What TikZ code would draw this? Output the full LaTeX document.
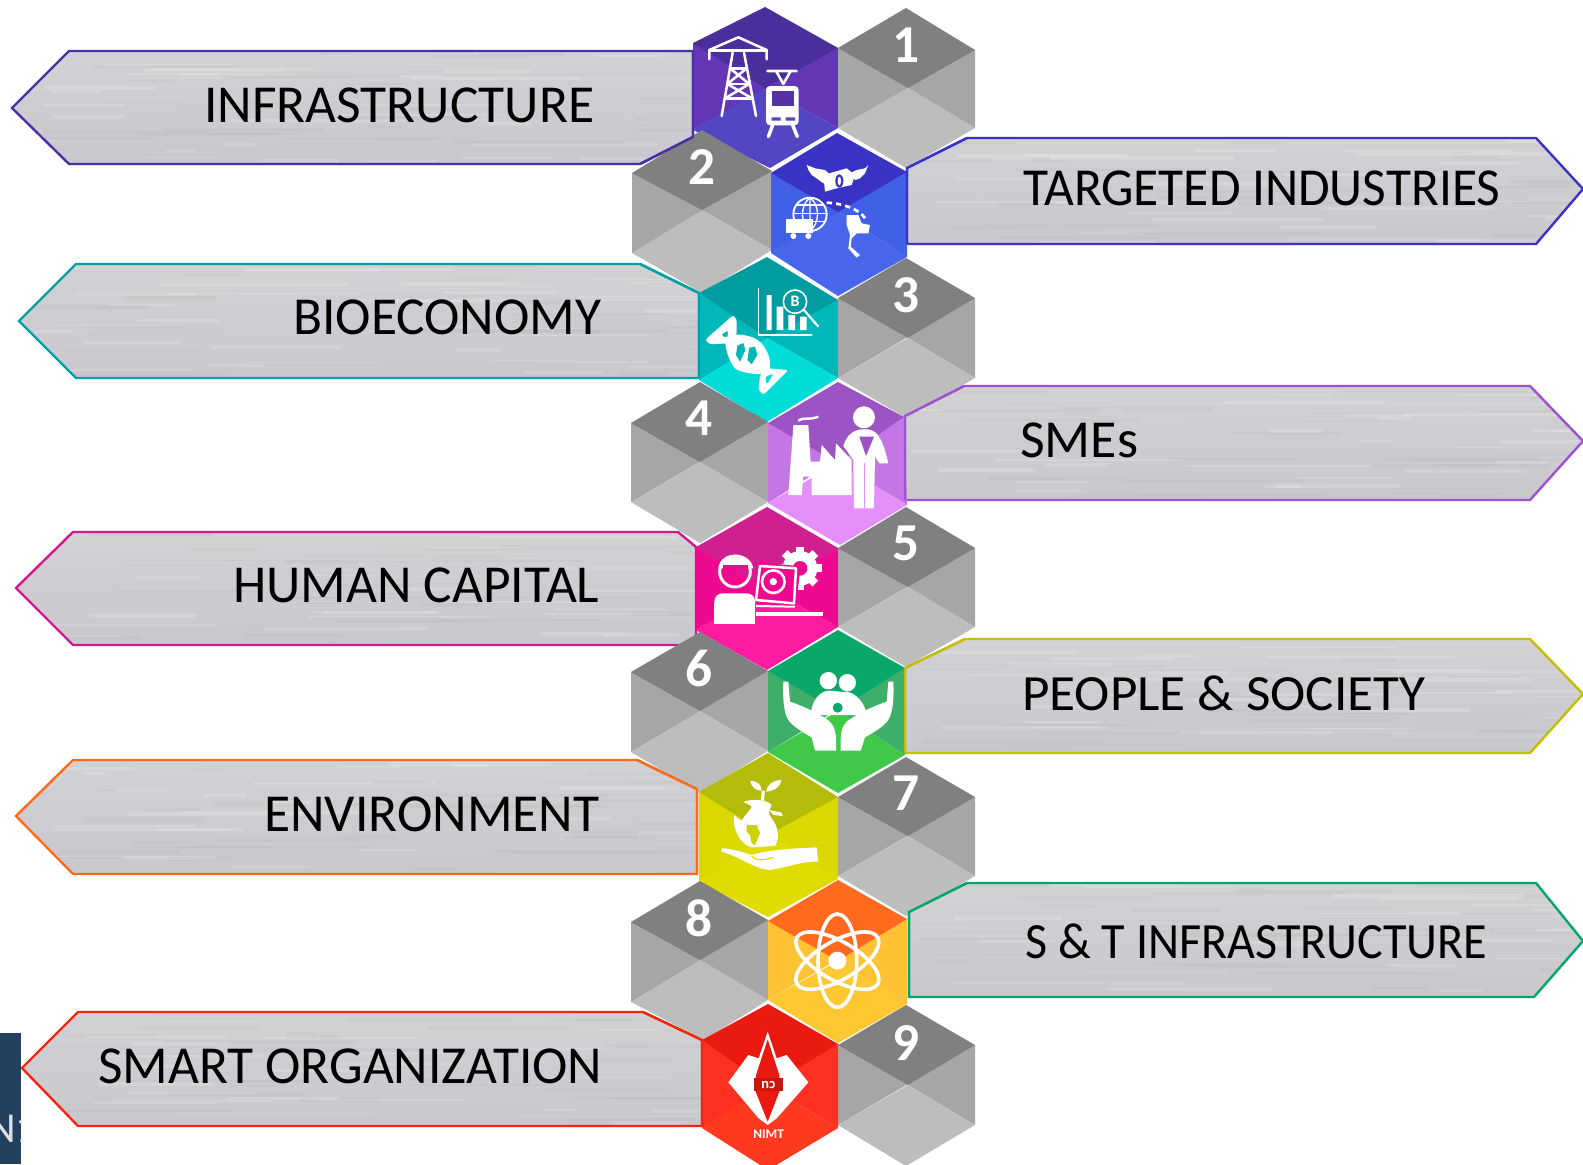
\documentclass[tikz,border=0pt]{standalone}
\usepackage{fontspec}
\usepackage{graphicx}
\setmainfont{Carlito}
\usetikzlibrary{calc}
\newdimen\pxu \pxu=.75pt
% palette: t = top rhombus, s = side triangles, b = bottom rhombus
\definecolor{gt}{HTML}{808080}\definecolor{gs}{HTML}{A6A6A6}\definecolor{gb}{HTML}{BDBDBD}
\definecolor{h1t}{HTML}{4A2E9B}\definecolor{h1s}{HTML}{6236B4}\definecolor{h1b}{HTML}{5246C2}
\definecolor{h2t}{HTML}{3A32C4}\definecolor{h2s}{HTML}{4160E8}\definecolor{h2b}{HTML}{4866EC}
\definecolor{h3t}{HTML}{009CA0}\definecolor{h3s}{HTML}{00B8BA}\definecolor{h3b}{HTML}{00DCD8}
\definecolor{h4t}{HTML}{9C54C4}\definecolor{h4s}{HTML}{C477E4}\definecolor{h4b}{HTML}{E48FFA}
\definecolor{h5t}{HTML}{D0208F}\definecolor{h5s}{HTML}{EE0A90}\definecolor{h5b}{HTML}{FF1CA0}
\definecolor{h6t}{HTML}{0AA868}\definecolor{h6s}{HTML}{3FAE6A}\definecolor{h6b}{HTML}{40C848}
\definecolor{h7t}{HTML}{B4BC0A}\definecolor{h7s}{HTML}{DAD800}\definecolor{h7b}{HTML}{E0DC00}
\definecolor{h8t}{HTML}{FF6A1E}\definecolor{h8s}{HTML}{FFC235}\definecolor{h8b}{HTML}{FFC832}
\definecolor{h9t}{HTML}{EA1A10}\definecolor{h9s}{HTML}{FF3020}\definecolor{h9b}{HTML}{FF3820}
\definecolor{b1}{HTML}{4A2FA8}\definecolor{b2}{HTML}{3A33C8}\definecolor{b3}{HTML}{00A0A8}
\definecolor{b4}{HTML}{A050D0}\definecolor{b5}{HTML}{D01890}\definecolor{b6}{HTML}{BFC000}
\definecolor{b7}{HTML}{FF6A18}\definecolor{b8}{HTML}{00A86B}\definecolor{b9}{HTML}{F02810}
\definecolor{metalA}{HTML}{D2D2D5}\definecolor{metalB}{HTML}{DEDEE0}\definecolor{metalC}{HTML}{C8C8CD}
\definecolor{navy}{HTML}{23405F}
\tikzset{
  x=.75pt,y=-.75pt,
  numlabel/.style={text=white,font=\fontsize{40}{44}\selectfont\bfseries,inner sep=0pt},
  iconline/.style={draw=white,line width=1.9pt,line cap=round,line join=round},
  iconfill/.style={fill=white},
  zoomed/.style={shift={(620,#1)},scale=1/3},
  banneredge/.style={line width=1.8pt,line join=miter},
}
% \hexa{palette}{top}{ul}{ur}{centre}{ll}{lr}{bottom}
\newcommand\hexa[8]{%
  \fill[#1s] #3 -- #4 -- #6 -- cycle;
  \fill[#1s] #4 -- #5 -- #7 -- cycle;
  \fill[#1t] #2 -- #3 -- #5 -- #4 -- cycle;
  \fill[#1b] #6 -- #5 -- #7 -- #8 -- cycle;
}
% \banner{colour}{polygon}{xmin}{xmax}{ymin}{ymax}{seed}
\newcommand\banner[7]{%
  \begin{scope}
    \clip #2;
    \path[shade,top color=metalA,middle color=metalB,bottom color=metalC] #2;
    \pgfmathsetseed{#7}
    \foreach \k in {1,...,60}{
      \pgfmathsetmacro\sx{#3+rnd*(#4-#3)}
      \pgfmathsetmacro\sy{#5+rnd*(#6-#5)}
      \pgfmathsetmacro\sl{30+rnd*170}
      \pgfmathsetmacro\sw{.6+rnd*2.2}
      \pgfmathsetmacro\sc{rnd>.5?100:0}
      \draw[black!30!white!\sc!white,line width=\sw pt,opacity=.16] (\sx,\sy) -- ++(\sl,0);
    }
  \end{scope}
  \draw[#1,banneredge] #2;
}
% \btext{name}{x}{y}{width px}{text}
\newcommand\btext[5]{%
  \node[anchor=west,inner sep=0pt,text=black] (#1) at (#2,#3)
    {\resizebox{\dimexpr #4\pxu\relax}{26pt}{\fontsize{40}{44}\selectfont #5}};
}
\begin{document}
\begin{tikzpicture}
\useasboundingbox (0,0) rectangle (1583,1164);
\clip (0,0) rectangle (1583,1164);
\fill[white] (0,0) rectangle (1583,1164);

% dark fragment at the bottom left
\begin{scope}
  \clip (0,1033) rectangle (21,1164);
  \fill[navy] (0,1033) rectangle (21,1164);
  \node[anchor=west,inner sep=0pt,text=white!85!navy,font=\fontsize{32}{34}\selectfont] (frag) at (-12,1129) {N1};
\end{scope}

% banners
\banner{b1}{(12,108) -- (69,51) -- (693,51) -- (693,137) -- (640,164) -- (69,164) -- cycle}{12}{693}{51}{164}{11}
\banner{b2}{(907,168) -- (967,138) -- (1536,138) -- (1583,189) -- (1536,244) -- (907,244) -- cycle}{907}{1583}{138}{244}{12}
\banner{b3}{(19,321) -- (76,264) -- (640,264) -- (699,293) -- (699,378) -- (76,378) -- cycle}{19}{699}{264}{378}{13}
\banner{b4}{(905,416) -- (964,386) -- (1530,386) -- (1583,441) -- (1530,500) -- (905,500) -- cycle}{905}{1583}{386}{500}{14}
\banner{b5}{(16,588) -- (73,532) -- (678,532) -- (696,547) -- (696,645) -- (73,645) -- cycle}{16}{696}{532}{645}{15}
\banner{b6}{(905,668) -- (965,639) -- (1530,639) -- (1583,694) -- (1530,753) -- (905,753) -- cycle}{905}{1583}{639}{753}{16}
\banner{b7}{(16,816) -- (73,760) -- (637,760) -- (697,789) -- (697,874) -- (73,874) -- cycle}{16}{697}{760}{874}{17}
\banner{b8}{(909,912) -- (967,883) -- (1536,883) -- (1583,941) -- (1534,997) -- (909,997) -- cycle}{909}{1583}{883}{997}{18}
\banner{b9}{(22,1068) -- (78,1012) -- (643,1012) -- (702,1040) -- (702,1126) -- (78,1126) -- cycle}{22}{702}{1012}{1126}{19}

% hexagons
\hexa{h1}{(765,7)}{(693,43)}{(838,48)}{(765,88)}{(693,130)}{(838,128)}{(770,168)}
\hexa{g}{(906,8)}{(838,48)}{(975,50)}{(908,88)}{(838,128)}{(975,128)}{(906,168)}
\hexa{g}{(702,130)}{(632,173)}{(772,171)}{(702,210)}{(632,253)}{(772,250)}{(702,293)}
\hexa{h2}{(837,133)}{(771,173)}{(907,172)}{(838,212)}{(771,253)}{(907,257)}{(838,296)}
\hexa{h3}{(767,257)}{(699,293)}{(838,300)}{(767,338)}{(699,380)}{(838,378)}{(767,422)}
\hexa{g}{(906,258)}{(838,298)}{(975,298)}{(908,338)}{(838,378)}{(975,378)}{(906,418)}
\hexa{g}{(700,382)}{(631,423)}{(768,422)}{(700,462)}{(631,502)}{(768,502)}{(700,543)}
\hexa{h4}{(838,382)}{(768,423)}{(904,417)}{(838,463)}{(768,503)}{(907,505)}{(840,545)}
\hexa{g}{(906,507)}{(838,548)}{(975,548)}{(908,587)}{(838,627)}{(975,627)}{(906,667)}
\hexa{h5}{(767,507)}{(696,547)}{(838,548)}{(767,588)}{(696,630)}{(838,627)}{(767,670)}
\hexa{g}{(700,632)}{(631,672)}{(768,671)}{(700,711)}{(631,752)}{(768,751)}{(700,793)}
\hexa{h6}{(838,630)}{(768,671)}{(905,668)}{(838,711)}{(768,752)}{(905,755)}{(838,793)}
\hexa{g}{(906,757)}{(838,797)}{(975,797)}{(908,836)}{(838,876)}{(975,876)}{(906,916)}
\hexa{h7}{(768,753)}{(699,792)}{(838,797)}{(768,835)}{(699,882)}{(838,879)}{(768,917)}
\hexa{g}{(700,881)}{(631,922)}{(768,920)}{(700,960)}{(631,1002)}{(768,1000)}{(704,1040)}
\hexa{h8}{(838,880)}{(768,921)}{(907,919)}{(838,961)}{(768,1000)}{(907,1004)}{(838,1043)}
\hexa{g}{(906,1005)}{(838,1045)}{(975,1045)}{(908,1085)}{(838,1125)}{(975,1125)}{(906,1166)}
\hexa{h9}{(768,1004)}{(702,1040)}{(838,1044)}{(768,1086)}{(702,1128)}{(838,1128)}{(768,1170)}

% banner edges lying on the hexagons
\draw[b1,banneredge] (640,164) -- (693,137) -- (693,51);
\draw[b2,banneredge] (967,138) -- (907,168) -- (907,244);
\draw[b3,banneredge] (640,264) -- (699,293) -- (699,378);
\draw[b4,banneredge] (964,386) -- (905,416) -- (905,500);
\draw[b6,banneredge] (965,639) -- (905,668) -- (905,753);
\draw[b7,banneredge] (637,760) -- (697,789) -- (697,874);
\draw[b8,banneredge] (967,883) -- (909,912) -- (909,997);
\draw[b9,banneredge] (643,1012) -- (702,1040) -- (702,1126);

% numbers
\node[numlabel] (n1) at (906,45) {1};
\node[numlabel] (n2) at (702,167) {2};
\node[numlabel] (n3) at (906,295) {3};
\node[numlabel] (n4) at (699,418) {4};
\node[numlabel] (n5) at (906,543) {5};
\node[numlabel] (n6) at (699,668) {6};
\node[numlabel] (n7) at (906,793) {7};
\node[numlabel] (n8) at (699,918) {8};
\node[numlabel] (n9) at (906,1043) {9};

% banner texts
\btext{t1}{204}{105}{390}{INFRASTRUCTURE}
\btext{t2}{1023}{188}{477}{TARGETED INDUSTRIES}
\btext{t3}{293}{317}{308}{BIOECONOMY}
\btext{t4}{1020}{440}{118}{SMEs}
\btext{t5}{233}{585}{366}{HUMAN CAPITAL}
\btext{t6}{1022}{693}{403}{PEOPLE \& SOCIETY}
\btext{t7}{264}{814}{335}{ENVIRONMENT}
\btext{t8}{1025}{941}{462}{S \& T INFRASTRUCTURE}
\btext{t9}{98}{1066}{504}{SMART ORGANIZATION}

% icon 1: pylon and tram
\begin{scope}[zoomed=0]
  \draw[iconline] (268,178) -- (268,150) -- (355,112) -- (440,150) -- (440,178);
  \draw[iconline] (268,152) -- (440,152);
  \draw[iconline] (338,158) -- (305,348);
  \draw[iconline] (372,158) -- (408,348);
  \draw[iconline] (330,205) -- (380,205) (322,252) -- (388,252) (315,295) -- (396,295);
  \draw[iconline] (330,205) -- (388,252) (380,205) -- (322,252) (322,252) -- (396,295) (388,252) -- (315,295);
  \draw[iconline] (442,213) -- (530,213) (468,213) -- (490,252) -- (512,213);
  \draw[iconline,line width=2.6pt] (458,375) -- (445,410) (518,375) -- (532,410);
  \fill[white,rounded corners=3pt] (438,258) rectangle (536,376);
  \fill[h1t!60!h1s] (455,272) rectangle (522,318);
  \fill[h1b] (455,352) rectangle (482,362) (497,352) rectangle (525,362);
\end{scope}

% icon 2: flying money, globe, truck, map  (coordinates of a crop at 780,155)
\begin{scope}[shift={(780,155)},scale=1/3]
  \fill[white] (80,30) -- (105,40) -- (135,45) -- (150,60) -- (130,85) -- (110,70) -- (95,60) -- (85,45) -- cycle;
  \fill[white] (265,30) -- (255,55) -- (240,70) -- (225,75) -- (210,55) -- (230,45) -- (255,40) -- cycle;
  \fill[white] (130,60) -- (200,40) -- (225,60) -- (215,90) -- (170,100) -- (135,110) -- cycle;
  \fill[h2t] (178,78) ellipse (12 and 20);
  \fill[white] (178,78) ellipse (5 and 13);
  \fill[h2s] (90,178) circle (50);
  \draw[white,line width=1.4pt] (90,178) circle (50);
  \begin{scope}
    \clip (90,178) circle (50);
    \foreach \yy in {150,175,200}{\draw[white,line width=1pt] (30,\yy) -- (150,\yy);}
    \draw[white,line width=1pt] (90,125) -- (90,230) (90,128) .. controls (60,150) and (60,205) .. (90,228) (90,128) .. controls (120,150) and (120,205) .. (90,228);
  \end{scope}
  \fill[white] (18,192) rectangle (100,235);
  \fill[white] (40,243) circle (9) (85,243) circle (9);
  \draw[white,line width=2pt,dash pattern=on 4pt off 3pt] (140,143) .. controls (190,145) and (245,165) .. (258,195);
  \fill[white] (200,180) -- (235,180) -- (245,205) -- (270,210) -- (265,235) -- (230,235) -- (215,250) -- (212,275) -- (240,300) -- (230,308) -- (205,280) -- (210,240) -- (200,210) -- cycle;
\end{scope}

% icon 3: chart
\begin{scope}[zoomed=260]
  \draw[iconline,line width=1.2pt] (415,85) -- (415,225) -- (575,225);
  \fill[white] (440,105) rectangle (455,210) (470,140) rectangle (490,210) (505,165) rectangle (525,210) (540,170) rectangle (560,210);
  \fill[h3t] (525,125) circle (32);
  \draw[white,line width=1.2pt] (525,125) circle (35);
  \draw[white,line width=1.6pt] (552,150) -- (595,200);
  \node[inner sep=0pt,text=white,font=\fontsize{12}{12}\selectfont\bfseries] (bsym) at (525,125) {B};
\end{scope}
% icon 3: DNA (coordinates of a crop at 700,305)
\begin{scope}[shift={(700,305)},scale=1/3]
  \fill[white] (75,100) .. controls (95,85) and (130,85) .. (165,100) .. controls (195,115) and (215,160) .. (210,190) -- (200,205) .. controls (175,210) and (125,205) .. (105,190) .. controls (85,165) and (75,130) .. cycle;
  \fill[h3s] (112,122) -- (130,114) -- (136,135) -- (120,170) -- (108,150) -- cycle;
  \fill[h3s] (148,128) -- (165,125) -- (172,150) -- (155,178) -- (142,165) -- cycle;
  \fill[white,even odd rule,rounded corners=2pt] (100,30) -- (15,105) -- (30,118) -- (85,115) -- (110,90) -- (110,45) -- cycle
    (62,90) -- (85,75) -- (82,100) -- cycle;
  \fill[white,even odd rule,rounded corners=2pt] (265,195) -- (205,190) -- (180,210) -- (175,255) -- (190,270) -- (215,245) -- cycle
    (195,215) -- (222,205) -- (200,240) -- cycle;
\end{scope}

% icon 4: factory and man
\begin{scope}[zoomed=260]
  \fill[white] (520,495) -- (565,495) -- (572,605) -- (600,605) -- (605,555) -- (645,600) -- (648,550) -- (695,600) -- (695,705) -- (575,705) -- (575,650) -- (550,650) -- (545,705) -- (505,705) -- cycle;
  \draw[white,line width=1.8pt] (535,482) .. controls (550,470) and (565,482) .. (595,470);
  \fill[white] (732,472) circle (33);
  \fill[white] (670,558) .. controls (680,525) and (700,510) .. (725,508) -- (745,508) .. controls (775,512) and (790,545) .. (805,610) -- (778,610) -- (765,590) -- (762,745) -- (702,745) -- (700,600) -- cycle;
  \fill[h4t] (718,530) -- (762,530) -- (738,588) -- cycle;
  \draw[h4b,line width=.5pt] (732,610) -- (732,745);
\end{scope}

% icon 5: engineer, laptop, gear
\begin{scope}[zoomed=500]
  \fill[white] (540,205) circle (52);
  \foreach \a in {0,45,...,315}{\fill[white,rotate around={\a:(540,205)}] (528,140) rectangle (552,165);}
  \fill[h5s] (540,205) circle (22);
  \fill[h5s,rotate around={-6:(470,255)}] (410,192) rectangle (535,315);
  \draw[white,line width=1.9pt,line join=round] (420,198) -- (528,205) -- (522,310) -- (408,300) -- cycle;
  \draw[white,line width=1.5pt] (408,318) -- (525,320);
  \draw[white,line width=1.9pt] (460,245) circle (34);
  \fill[white] (460,245) circle (11);
  \draw[white,line width=2.2pt] (345,215) circle (46);
  \fill[white] (295,205) .. controls (300,150) and (390,150) .. (400,205) -- cycle;
  \fill[h5s] (310,207) rectangle (385,196);
  \fill[white,rounded corners=6pt] (283,340) -- (283,280) -- (405,280) -- (405,340) -- cycle;
  \fill[white] (283,310) rectangle (405,372);
  \fill[white] (408,336) rectangle (608,349);
\end{scope}

% icon 6: family in hands
\begin{scope}[zoomed=500]
  \fill[white] (625,542) circle (26) (682,548) circle (26);
  \fill[white] (572,645) .. controls (575,600) and (600,572) .. (628,572) .. controls (650,572) and (660,578) .. (680,575) .. controls (710,580) and (735,610) .. (740,645) -- cycle;
  \fill[h6t] (653,623) circle (15);
  \fill[h6b] (620,668) .. controls (630,645) and (680,645) .. (690,668) -- (660,760) -- (650,760) -- cycle;
  \fill[white] (490,545) -- (505,545) -- (510,605) .. controls (540,615) and (600,640) .. (630,665) .. controls (645,680) and (650,700) .. (648,752) -- (585,752) -- (575,712) .. controls (545,695) and (520,680) .. (505,660) .. controls (490,635) and (488,590) .. cycle;
  \fill[white] (820,545) -- (805,545) -- (800,605) .. controls (770,615) and (710,640) .. (680,665) .. controls (665,680) and (660,700) .. (662,752) -- (722,752) -- (735,712) .. controls (765,695) and (790,680) .. (805,660) .. controls (820,635) and (822,590) .. cycle;
\end{scope}

% icon 7: plant, globe, hand (coordinates of a crop at 710,770)
\begin{scope}[shift={(710,770)},scale=1/3]
  \draw[white,line width=2.4pt] (160,62) -- (157,92);
  \fill[white] (120,33) .. controls (140,30) and (155,45) .. (155,62) .. controls (135,62) and (125,50) .. cycle;
  \fill[white] (215,30) .. controls (190,30) and (170,45) .. (168,65) .. controls (195,62) and (210,50) .. cycle;
  \fill[white] (72,135) .. controls (65,180) and (95,225) .. (125,232) -- (195,228) .. controls (210,205) and (205,170) .. (185,145) .. controls (175,135) and (175,120) .. (185,105) .. controls (175,90) and (130,85) .. (100,95) .. controls (110,102) and (125,105) .. (125,112) .. controls (115,125) and (105,135) .. (95,152) .. controls (88,150) and (80,142) .. cycle;
  \fill[white] (178,120) -- (215,128) -- (218,138) -- (190,135) -- cycle;
  \fill[h7s!70!h7t] (110,165) -- (140,165) -- (150,190) -- (135,225) -- (125,220) -- (120,195) -- (110,185) -- cycle;
  \fill[white] (35,235) .. controls (60,235) and (95,245) .. (125,255) .. controls (170,240) and (250,235) .. (320,232) -- (325,275) .. controls (280,272) and (220,295) .. (180,300) .. controls (140,300) and (90,260) .. (35,245) -- cycle;
  \draw[h7s,line width=.8pt] (125,258) .. controls (140,275) and (165,270) .. (190,262);
\end{scope}

% icon 8: atom
\begin{scope}[zoomed=750]
  \fill[white] (652,632) circle (27);
  \draw[white,line width=2.7pt] (652,632) ellipse [x radius=58,y radius=140];
  \draw[white,line width=2.7pt,rotate around={60:(652,632)}] (652,632) ellipse [x radius=58,y radius=140];
  \draw[white,line width=2.7pt,rotate around={-60:(652,632)}] (652,632) ellipse [x radius=58,y radius=140];
\end{scope}

% icon 9: emblem
\begin{scope}[zoomed=750]
  \fill[white] (443,845) -- (470,925) -- (500,915) -- (565,997) -- (470,1105) -- (443,1125) -- (416,1105) -- (325,997) -- (385,915) -- (416,925) -- cycle;
  \fill[h9t] (443,868) -- (478,975) -- (480,1020) -- (443,1115) -- (405,1020) -- (408,975) -- cycle;
  \fill[h9t!85!black] (402,985) rectangle (488,1022);
  \node[rotate=180,inner sep=0pt,text=white,font=\fontsize{11}{11}\selectfont\bfseries] (emblem) at (445,1005) {cu};
  \node[inner sep=0pt,text=white,font=\fontsize{10}{10}\selectfont\bfseries] (nimt) at (446,1152) {NIMT};
\end{scope}
\end{tikzpicture}
\end{document}
